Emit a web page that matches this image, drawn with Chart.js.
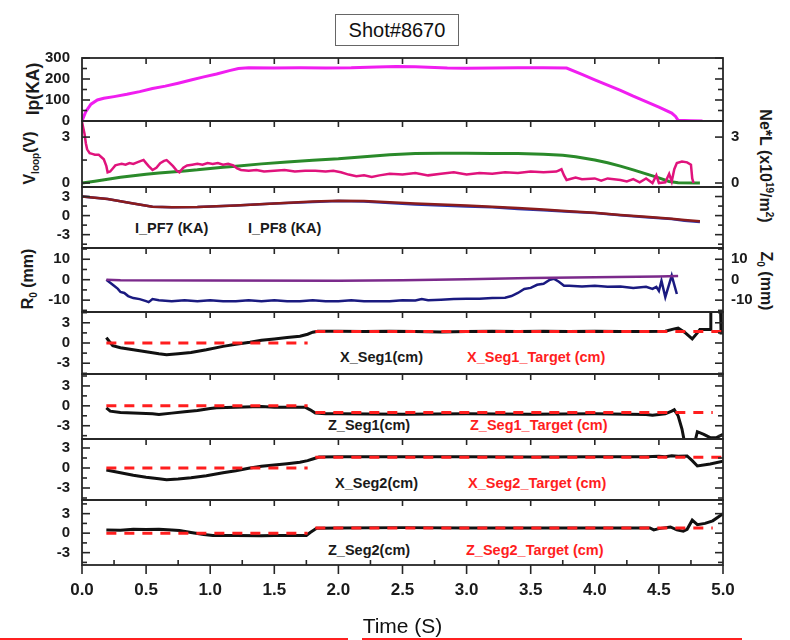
<!DOCTYPE html>
<html><head><meta charset="utf-8">
<script src="https://cdn.jsdelivr.net/npm/chart.js@4.4.1/dist/chart.umd.min.js"></script>
<style>
html,body{margin:0;padding:0;background:#fff;}
#wrap{position:relative;width:790px;height:640px;overflow:hidden;font-family:'Liberation Sans',Arial,sans-serif;}
canvas{position:absolute;left:0;}
.t{position:absolute;white-space:nowrap;font-weight:bold;color:#1a1a1a;transform:translateY(-50%);font-size:14.5px;}
.red{color:#ff1e1e;}
.yt{position:absolute;white-space:nowrap;font-weight:bold;color:#1a1a1a;font-size:16px;line-height:16px;}
.yt sub,.yt sup{font-size:10px;line-height:0;}
#title{position:absolute;left:335px;top:14px;width:122px;height:30px;border:1px solid #666;font-size:20px;line-height:30px;text-align:center;color:#111;}
.rl{position:absolute;top:638px;height:1.5px;background:#ff2020;}
</style></head>
<body><div id="wrap">
<div id="title">Shot#8670</div>
<div class="yt" style="left:33px;top:89px;font-size:17.5px;transform:translate(-50%,-50%) rotate(-90deg)">Ip(KA)</div>
<div class="yt" style="left:30px;top:158px;transform:translate(-50%,-50%) rotate(-90deg)">V<sub>loop</sub>(V)</div>
<div class="yt" style="left:28px;top:279px;transform:translate(-50%,-50%) rotate(-90deg)">R<sub>0</sub> (mm)</div>
<div class="yt" style="left:765px;top:166px;transform:translate(-50%,-50%) rotate(90deg)">Ne*L (x10<sup>19</sup>/m<sup>2</sup>)</div>
<div class="yt" style="left:766px;top:281px;transform:translate(-50%,-50%) rotate(90deg)">Z<sub>0</sub> (mm)</div>
<div class="t" style="left:135px;top:228px">I_PF7 (KA)</div>
<div class="t" style="left:248px;top:228px">I_PF8 (KA)</div>
<div class="t" style="left:340px;top:357px">X_Seg1(cm)</div>
<div class="t red" style="left:467px;top:357px">X_Seg1_Target (cm)</div>
<div class="t" style="left:328px;top:425px">Z_Seg1(cm)</div>
<div class="t red" style="left:470px;top:425px">Z_Seg1_Target (cm)</div>
<div class="t" style="left:335px;top:483px">X_Seg2(cm)</div>
<div class="t red" style="left:468px;top:483px">X_Seg2_Target (cm)</div>
<div class="t" style="left:328px;top:550px">Z_Seg2(cm)</div>
<div class="t red" style="left:466px;top:550px">Z_Seg2_Target (cm)</div>
<div class="rl" style="left:0;width:348px"></div>
<div class="rl" style="left:362px;width:380px"></div>
</div>
<script>
// ---------------- DATA ----------------
const xTickLabels = ['0.0','0.5','1.0','1.5','2.0','2.5','3.0','3.5','4.0','4.5','5.0'];

const tIp = [0,0.03,0.07,0.12,0.17,0.25,0.35,0.45,0.55,0.65,0.75,0.85,0.95,1.05,1.15,1.22,1.3,1.5,1.7,1.9,2.1,2.3,2.45,2.6,2.75,2.85,3.0,3.2,3.4,3.6,3.78,3.9,4.0,4.1,4.2,4.3,4.4,4.5,4.6,4.63,4.65,4.75,4.84];
const ip  = [0,45,80,100,108,116,127,140,155,166,180,195,210,224,240,250,253,252,253,252,253,257,259,258,255,252,251,252,254,254,252,222,196,171,146,118,92,66,38,22,3,1,0];

const tVloop = [0,0.01,0.02,0.03,0.04,0.06,0.08,0.1,0.13,0.15,0.17,0.19,0.2,0.22,0.24,0.26,0.28,0.31,0.34,0.37,0.4,0.43,0.46,0.48,0.5,0.52,0.55,0.58,0.61,0.64,0.66,0.68,0.71,0.74,0.76,0.79,0.82,0.86,0.9,0.94,0.98,1.02,1.06,1.1,1.14,1.18,1.21,1.24,1.3,1.36,1.42,1.5,1.58,1.66,1.74,1.82,1.9,1.96,2.02,2.08,2.14,2.2,2.26,2.32,2.4,2.5,2.6,2.7,2.8,2.9,3.0,3.1,3.2,3.3,3.4,3.5,3.6,3.7,3.74,3.76,3.78,3.85,3.9,4.0,4.05,4.1,4.2,4.25,4.3,4.35,4.4,4.45,4.48,4.5,4.55,4.58,4.6,4.62,4.64,4.68,4.72,4.75,4.76,4.77];
const vloop  = [4.0,3.6,3.2,2.6,2.2,1.95,1.9,1.85,1.85,1.7,1.55,1.1,0.7,0.75,0.95,1.15,1.2,1.25,1.2,1.3,1.25,1.35,1.45,1.5,1.3,1.1,0.85,1.0,1.3,1.45,1.5,1.35,1.1,0.8,0.7,1.0,1.15,1.2,1.25,1.2,1.3,1.25,1.3,1.2,1.25,1.15,0.95,0.85,0.8,0.85,0.75,0.8,0.85,0.75,0.8,0.8,0.75,0.8,0.7,0.55,0.45,0.5,0.4,0.5,0.6,0.55,0.65,0.5,0.6,0.7,0.55,0.65,0.6,0.7,0.65,0.75,0.7,0.75,0.9,0.5,0.2,0.35,0.25,0.3,0.15,0.3,0.2,0.1,0.25,0.05,0.3,0.0,0.5,0.0,0.05,0.6,0.1,0.9,1.3,1.4,1.35,1.2,0.3,0.0];

const tNe = [0,0.1,0.2,0.3,0.4,0.5,0.6,0.7,0.8,0.9,1.0,1.1,1.2,1.4,1.6,1.8,2.0,2.2,2.4,2.6,2.8,3.0,3.2,3.4,3.6,3.75,3.85,4.0,4.1,4.2,4.3,4.4,4.5,4.58,4.65,4.82];
const neL = [0,0.12,0.25,0.37,0.47,0.57,0.65,0.72,0.79,0.86,0.95,1.03,1.1,1.25,1.38,1.48,1.58,1.72,1.85,1.93,1.95,1.95,1.93,1.92,1.88,1.82,1.72,1.5,1.32,1.1,0.86,0.6,0.34,0.1,0.02,0.0];

const tPF = [0,0.2,0.4,0.55,0.7,0.9,1.2,1.5,1.8,2.0,2.2,2.4,2.6,2.8,3.0,3.2,3.4,3.6,3.8,4.0,4.2,4.4,4.6,4.7,4.82];
const iPF7 = [3.0,2.6,1.9,1.4,1.3,1.35,1.6,1.9,2.2,2.35,2.3,2.1,1.9,1.75,1.6,1.4,1.2,0.95,0.7,0.45,0.1,-0.2,-0.5,-0.7,-0.9];
const iPF8 = [3.0,2.6,1.9,1.4,1.3,1.35,1.6,1.9,2.15,2.3,2.2,2.0,1.75,1.6,1.45,1.3,1.05,0.85,0.6,0.4,0.05,-0.25,-0.55,-0.8,-1.0];

const tR0 = [0.19,0.22,0.25,0.28,0.3,0.33,0.36,0.4,0.45,0.5,0.52,0.55,0.6,0.7,0.8,0.9,1.0,1.1,1.2,1.3,1.4,1.5,1.6,1.7,1.8,1.9,2.0,2.1,2.2,2.3,2.4,2.5,2.6,2.65,2.7,2.8,2.9,3.0,3.1,3.2,3.3,3.35,3.4,3.45,3.5,3.55,3.6,3.65,3.68,3.72,3.76,3.8,3.9,4.0,4.1,4.2,4.3,4.4,4.45,4.48,4.5,4.52,4.55,4.6,4.64];
const r0  = [0,-1.5,-3,-4.5,-6,-6.5,-8,-9,-9.5,-10.5,-11,-9.5,-10,-10.5,-10,-10.5,-10,-10.5,-10.5,-10,-10.5,-10,-10.5,-10.5,-10,-10.5,-10.5,-10,-10.5,-10.5,-10.5,-10,-10.2,-9.5,-10,-9.8,-9.5,-9.3,-9.3,-9,-8.8,-8,-6.5,-4.5,-4,-2.5,-2,0,0.5,-1,-3,-3,-3.3,-3,-3.5,-3.3,-4,-3.5,-4.5,-3.5,-5.5,-0.5,-8.5,2,-7];
const tZ0 = [0.19,0.3,1.0,2.0,2.5,3.0,3.5,4.0,4.5,4.65];
const z0  = [0,-0.3,-0.4,-0.5,-0.3,0.2,0.8,1.2,1.6,1.8];

const tXs1 = [0.19,0.21,0.24,0.3,0.4,0.5,0.6,0.66,0.75,0.85,0.97,1.1,1.2,1.31,1.4,1.5,1.6,1.7,1.76,1.8,1.84,2.0,2.2,2.4,2.6,2.8,3.0,3.2,3.4,3.6,3.8,4.0,4.2,4.4,4.55,4.62,4.65,4.7,4.76,4.8,4.82,4.9,4.905,4.98,4.985,5.0];
const xSeg1 = [0.8,0.3,-0.4,-0.7,-1.0,-1.3,-1.6,-1.75,-1.6,-1.4,-1.0,-0.5,-0.2,0.1,0.4,0.6,0.8,1.0,1.3,1.6,1.75,1.75,1.7,1.75,1.7,1.65,1.7,1.75,1.7,1.75,1.7,1.75,1.7,1.7,1.75,2.1,2.2,1.6,0.6,1.5,2.0,2.0,6.0,6.0,1.5,1.5];
const tXs1T = [0.19,1.76,1.79,1.82,5.0];
const xSeg1T = [0,0,null,1.7,1.7];

const tZs1 = [0.19,0.22,0.3,0.45,0.55,0.6,0.7,0.8,0.9,1.0,1.05,1.2,1.4,1.5,1.6,1.74,1.78,1.82,1.9,2.0,2.5,3.0,3.5,4.0,4.4,4.45,4.5,4.55,4.6,4.62,4.65,4.68,4.7,4.78,4.8,4.85,4.9,4.95,5.0];
const zSeg1 = [-0.3,-0.8,-1.0,-1.1,-1.2,-1.3,-1.1,-0.9,-0.7,-0.4,-0.3,-0.2,-0.1,-0.2,-0.2,-0.2,-0.6,-1.1,-1.2,-1.2,-1.25,-1.2,-1.25,-1.2,-1.3,-1.4,-1.3,-1.2,-0.8,-0.6,-1.5,-3.5,-5.5,-5.5,-3.9,-4.3,-4.8,-4.8,-4.3];
const tZs1T = [0.19,1.76,1.79,1.82,4.92];
const zSeg1T = [0,0,null,-1.0,-1.0];

const tXs2 = [0.19,0.3,0.4,0.5,0.6,0.66,0.75,0.85,0.97,1.1,1.2,1.31,1.4,1.52,1.6,1.7,1.76,1.8,1.85,2.0,2.5,3.0,3.5,4.0,4.4,4.5,4.55,4.6,4.65,4.72,4.76,4.8,4.9,5.0];
const xSeg2 = [-0.3,-0.7,-1.1,-1.4,-1.6,-1.75,-1.65,-1.45,-1.15,-0.7,-0.4,0,0.25,0.5,0.65,0.85,1.1,1.35,1.65,1.7,1.7,1.7,1.65,1.7,1.7,1.75,1.7,1.85,1.75,1.8,1.1,0.3,0.6,1.0];
const tXs2T = [0.19,1.76,1.79,1.82,5.0];
const xSeg2T = [0,0,null,1.6,1.6];

const tZs2 = [0.19,0.3,0.4,0.5,0.6,0.7,0.76,0.85,0.95,1.02,1.2,1.4,1.5,1.6,1.75,1.78,1.83,2.0,2.5,3.0,3.5,4.0,4.43,4.46,4.5,4.59,4.64,4.69,4.72,4.76,4.8,4.86,4.92,5.0];
const zSeg2 = [0.5,0.45,0.6,0.55,0.6,0.5,0.4,0.1,-0.2,-0.35,-0.35,-0.4,-0.35,-0.35,-0.35,0.1,0.75,0.8,0.85,0.8,0.8,0.8,0.8,0.5,0.7,0.95,0.5,0.3,0.6,2.0,1.3,1.5,1.9,3.0];
const tZs2T = [0.19,1.76,1.79,1.82,4.92];
const zSeg2T = [0,0,null,0.8,0.8];

// tick values per panel (labels + minor marks)
const ipTicks = [0,100,200,300], ipMinor = [50,150,250];
const vTicks = [0,3], vMinor = [1.5];
const segTicks = [-3,0,3], segMinor = [-4.5,-1.5,1.5,4.5];
const mmTicks = [-10,0,10], mmMinor = [-15,-5,5,15];

// ---------------- DRAWING ----------------
const FONT = "'Liberation Sans', Arial, sans-serif";
const pts = (t, v) => t.map((x, i) => ({x: x, y: v[i]}));
const PAD = 12;
const noPad = s => { s.paddingTop = 0; s.paddingBottom = 0; s.paddingLeft = 0; s.paddingRight = 0; };

const frameTicks = {
  id: 'frameTicks',
  afterDatasetsDraw(chart) {
    const o = chart.options.plugins.frameTicks;
    const {ctx, chartArea: a, scales: {x, y}} = chart;
    const ln = (x1, y1, x2, y2) => { ctx.beginPath(); ctx.moveTo(x1, y1); ctx.lineTo(x2, y2); ctx.stroke(); };
    ctx.save();
    ctx.strokeStyle = '#262626';
    ctx.lineWidth = 1.8;
    ctx.strokeRect(a.left, a.top, a.right - a.left, a.bottom - a.top);
    ctx.lineWidth = 1.6;
    o.major.forEach(v => { const p = y.getPixelForValue(v); if (p >= a.top - 1 && p <= a.bottom + 1) { ln(a.left, p, a.left + 8, p); ln(a.right, p, a.right - 8, p); } });
    o.minor.forEach(v => { const p = y.getPixelForValue(v); if (p >= a.top && p <= a.bottom) { ln(a.left, p, a.left + 5, p); ln(a.right, p, a.right - 5, p); } });
    for (let k = 1; k < 10; k++) { const p = x.getPixelForValue(k * 0.5); ln(p, a.top, p, a.top + 6); }
    if (o.last) {
      for (let k = 0; k <= 10; k++) { const p = x.getPixelForValue(k * 0.5); ln(p, a.bottom, p, a.bottom + 9); }
      for (let k = 0; k < 10; k++) { const p = x.getPixelForValue(k * 0.5 + 0.25); ln(p, a.bottom, p, a.bottom - 5); }
    }
    ctx.restore();
  }
};

function ds(data, color, width, dash) {
  return {data: data, borderColor: color, borderWidth: width, borderDash: dash || [], pointRadius: 0, tension: 0, spanGaps: false, fill: false};
}

function makePanel(top, bottom, yMin, yMax, major, minor, datasets, rightLabels, last) {
  const cv = document.createElement('canvas');
  const cTop = top - PAD;
  const cH = last ? 640 - cTop : (bottom - top) + 2 * PAD;
  cv.width = 790; cv.height = cH;
  cv.style.top = cTop + 'px';
  cv.style.width = '790px'; cv.style.height = cH + 'px';
  document.getElementById('wrap').appendChild(cv);
  const tickFont = {family: FONT, size: 15, weight: 'bold'};
  const scales = {
    x: {
      type: 'linear', min: 0, max: 5, display: !!last, position: 'bottom',
      afterFit(s) { if (last) s.height = 640 - bottom; noPad(s); },
      afterBuildTicks(s) { s.ticks = xTickLabels.map(l => ({value: parseFloat(l)})); },
      grid: {display: false, drawTicks: false}, border: {display: false},
      ticks: {callback: (v) => Number(v).toFixed(1), font: {family: FONT, size: 17, weight: 'bold'}, color: '#1a1a1a', padding: 15, maxRotation: 0, autoSkip: false},
      title: {display: true, text: 'Time (S)', font: {family: FONT, size: 21}, color: '#111', padding: 0}
    },
    y: {
      type: 'linear', min: yMin, max: yMax, position: 'left',
      afterFit(s) { s.width = 82; noPad(s); },
      afterBuildTicks(s) { s.ticks = major.map(v => ({value: v})); },
      grid: {display: false, drawTicks: false}, border: {display: false},
      ticks: {font: tickFont, color: '#1a1a1a', padding: 12, autoSkip: false}
    }
  };
  let padRight = 67;
  if (rightLabels) {
    padRight = 0;
    scales.y2 = {
      type: 'linear', min: yMin, max: yMax, position: 'right',
      afterFit(s) { s.width = 67; noPad(s); },
      afterBuildTicks(s) { s.ticks = major.map(v => ({value: v})); },
      grid: {display: false, drawTicks: false}, border: {display: false},
      ticks: {font: tickFont, color: '#1a1a1a', padding: 8, autoSkip: false}
    };
  }
  return new Chart(cv, {
    type: 'line',
    data: {datasets: datasets},
    options: {
      responsive: false, animation: false, devicePixelRatio: 1,
      layout: {padding: {top: PAD, bottom: last ? 0 : PAD, left: 0, right: padRight}},
      plugins: {legend: {display: false}, tooltip: {enabled: false}, frameTicks: {major: major, minor: minor, last: !!last}},
      scales: scales
    },
    plugins: [frameTicks]
  });
}

makePanel(58, 121, 0, 300, ipTicks, ipMinor,
  [ds(pts(tIp, ip), '#f01ef0', 3)]);
makePanel(121, 187, -0.26, 4.05, vTicks, vMinor,
  [ds(pts(tVloop, vloop), '#e0137c', 2.5), ds(pts(tNe, neL), '#2a8a2a', 3)], true);
makePanel(187, 248, -5.1, 4.5, segTicks, segMinor,
  [ds(pts(tPF, iPF7), '#8b1c1c', 2.5), ds(pts(tPF, iPF8), '#2b36b0', 2.5)]);
makePanel(248, 312, -15.8, 15.5, mmTicks, mmMinor,
  [ds(pts(tZ0, z0), '#7b2a8b', 2.5), ds(pts(tR0, r0), '#1a1a80', 2.5)], true);
makePanel(312, 374, -4.6, 4.6, segTicks, segMinor,
  [ds(pts(tXs1T, xSeg1T), '#ff1e1e', 3, [10, 8]), ds(pts(tXs1, xSeg1), '#111', 3)]);
makePanel(374, 439, -5.0, 4.8, segTicks, segMinor,
  [ds(pts(tZs1T, zSeg1T), '#ff1e1e', 3, [10, 8]), ds(pts(tZs1, zSeg1), '#111', 3)]);
makePanel(439, 500, -4.8, 4.35, segTicks, segMinor,
  [ds(pts(tXs2T, xSeg2T), '#ff1e1e', 3, [10, 8]), ds(pts(tXs2, xSeg2), '#111', 3)]);
makePanel(500, 565, -4.9, 5.1, segTicks, segMinor,
  [ds(pts(tZs2T, zSeg2T), '#ff1e1e', 3, [10, 8]), ds(pts(tZs2, zSeg2), '#111', 3)], false, true);
</script>
</body></html>
